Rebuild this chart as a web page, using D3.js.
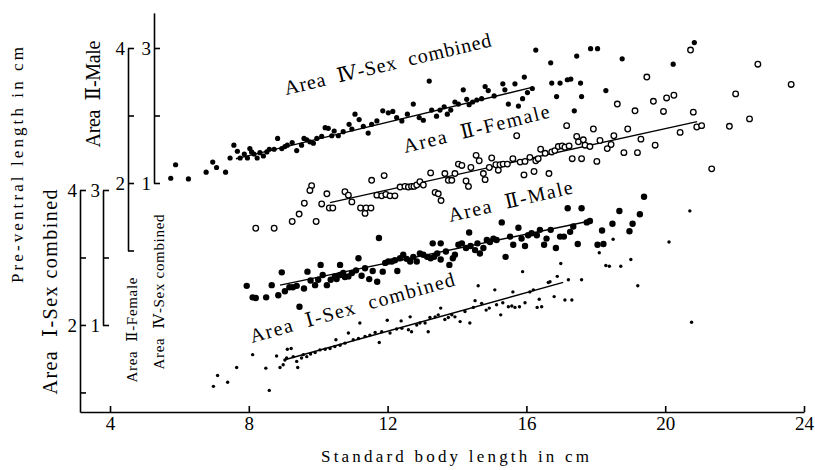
<!DOCTYPE html>
<html>
<head>
<meta charset="utf-8">
<script src="https://cdn.jsdelivr.net/npm/d3@7"></script>
<style>
  body { margin: 0; background: #fff; }
  text { font-family: 'Liberation Serif', 'DejaVu Serif', serif; fill: #000; }
</style>
</head>
<body>
<div id="chart"></div>
<script>
// standard body length (cm) ticks on the shared x axis
const xTicks = [4, 8, 12, 16, 20, 24]

// each y axis: tick values and which of them carry a number
const ticksI = [1, 2, 3, 4]
const labelsI = [2, 4]
const ticksM = [1, 2, 3]
const labelsM = [1, 3]
const ticksF = [1, 2, 3, 4]
const labelsF = [2, 4]
const ticksIV = [1, 2, 3]
const labelsIV = [1, 3]

// [standard length, pre-ventral length] in cm
const areaIV = [
  [5.75,1.07],[5.89,1.27],[6.26,1.06],[6.77,1.16],[6.96,1.31],[7.07,1.23],[7.33,1.16],[7.46,1.37],[7.57,1.56],[7.67,1.47],
  [7.75,1.37],[7.87,1.43],[7.96,1.37],[8.03,1.51],[8.08,1.46],[8.15,1.43],[8.24,1.37],[8.32,1.45],[8.42,1.40],[8.52,1.46],
  [8.59,1.50],[8.73,1.50],[8.83,1.66],[8.95,1.51],[9.04,1.54],[9.11,1.56],[9.25,1.60],[9.38,1.48],[9.52,1.56],[9.59,1.66],
  [9.67,1.64],[9.76,1.61],[9.86,1.59],[9.96,1.66],[10.10,1.69],[10.20,1.82],[10.29,1.81],[10.39,1.70],[10.46,1.77],[10.58,1.70],
  [10.72,1.76],[10.89,1.87],[10.97,1.80],[11.06,2.02],[11.18,1.94],[11.30,1.84],[11.44,1.74],[11.54,1.87],[11.69,1.92],[11.86,2.07],
  [12.02,2.04],[12.15,2.06],[12.26,1.97],[12.41,1.92],[12.57,2.02],[12.74,2.17],[12.91,1.97],[13.03,1.93],[13.20,2.51],[13.27,2.08],
  [13.41,1.99],[13.51,2.08],[13.63,2.13],[13.72,2.02],[13.82,2.08],[13.94,2.20],[14.04,2.17],[14.18,2.38],[14.28,2.24],[14.35,2.16],
  [14.45,2.20],[14.57,2.23],[14.71,2.25],[14.81,2.43],[14.90,2.37],[15.07,2.29],[15.32,2.47],[15.38,2.38],[15.48,2.17],[15.67,2.47],
  [15.77,2.14],[15.89,2.25],[15.94,2.57],[16.03,2.34],[16.17,2.40],[16.27,2.97],[16.70,2.78],[16.73,2.48],[16.97,2.48],[17.18,2.53],
  [17.28,2.54],[16.87,2.28],[17.56,2.48],[17.45,2.88],[17.85,2.99],[18.05,2.99],[17.59,2.28],[17.38,2.07],[18.29,2.37],[18.76,2.84],
  [20.23,2.76],[20.84,3.08]
]

const areaIIFemale = [
  [8.20,1.33],[8.73,1.33],[9.25,1.43],[9.45,1.54],[9.60,1.70],[9.81,1.96],[9.76,1.89],[9.94,1.43],[10.10,1.69],[10.25,1.84],
  [10.32,1.63],[10.42,1.63],[10.77,1.87],[10.87,1.82],[10.97,1.72],[11.22,1.63],[11.38,1.63],[11.52,1.63],[11.35,1.55],[11.54,2.04],
  [11.90,2.11],[11.69,1.82],[11.83,1.81],[11.95,1.83],[12.07,1.81],[12.21,1.81],[12.36,1.94],[12.50,1.95],[12.60,1.94],[12.69,1.95],
  [12.76,1.95],[12.84,1.97],[12.93,2.02],[13.03,1.97],[13.24,2.15],[13.37,1.86],[13.46,1.84],[13.54,1.74],[13.65,2.14],[13.75,2.04],
  [13.85,2.04],[13.94,2.14],[14.04,2.28],[14.14,2.26],[14.26,2.03],[14.33,1.95],[14.40,2.23],[14.55,2.41],[14.64,2.33],[14.76,2.14],
  [14.81,2.05],[14.93,2.23],[15.00,2.37],[15.12,2.27],[15.19,2.19],[15.24,2.27],[15.33,2.28],[15.45,2.28],[15.61,2.36],[15.72,2.70],
  [15.82,2.31],[15.93,2.12],[15.96,2.32],[16.10,2.38],[16.22,2.17],[16.27,2.33],[16.34,2.36],[16.41,2.50],[16.54,2.44],[16.65,2.14],
  [16.73,2.46],[16.82,2.48],[16.92,2.54],[17.03,2.55],[17.11,2.53],[17.16,2.85],[17.23,2.55],[17.32,2.36],[17.45,2.69],[17.50,2.61],
  [17.59,2.36],[17.64,2.64],[17.69,2.56],[17.83,2.54],[17.93,2.80],[18.12,2.63],[18.03,2.32],[18.33,2.51],[18.44,2.57],[18.52,2.70],
  [18.62,3.17],[18.81,2.45],[18.92,2.80],[19.13,3.07],[19.20,2.45],[19.30,2.65],[19.47,3.57],[19.66,3.21],[19.71,2.56],[19.95,3.06],
  [20.04,3.26],[20.25,3.30],[20.43,2.75],[20.73,3.97],[20.81,3.05],[20.91,2.83],[21.05,2.85],[21.34,2.21],[21.85,2.84],[22.03,3.32],
  [22.43,2.95],[22.67,3.76],[23.63,3.46]
]

const areaIIMale = [
  [7.94,1.58],[8.11,1.41],[8.20,1.40],[8.50,1.41],[8.66,1.59],[8.85,1.44],[8.95,1.78],[9.04,1.50],[9.17,1.56],[9.27,1.56],
  [9.38,1.58],[9.46,1.27],[9.59,1.54],[9.69,1.79],[9.78,1.66],[9.91,1.59],[10.00,1.67],[10.07,1.89],[10.13,1.74],[10.25,1.59],
  [10.36,1.67],[10.48,1.72],[10.53,1.68],[10.63,1.74],[10.72,1.77],[10.87,1.72],[10.63,1.89],[10.77,1.71],[10.97,1.77],[11.09,1.81],
  [11.16,1.99],[11.25,1.73],[11.35,1.84],[11.47,1.68],[11.57,1.80],[11.70,1.64],[11.75,2.29],[11.86,1.79],[11.93,1.92],[12.02,1.94],
  [12.12,1.94],[12.21,1.96],[12.28,1.80],[12.36,1.99],[12.45,2.04],[12.55,1.98],[12.65,1.94],[12.74,2.01],[12.84,1.94],[12.93,2.06],
  [13.03,2.04],[13.14,2.01],[13.24,1.99],[13.34,2.01],[13.43,2.06],[13.53,1.97],[13.30,2.21],[13.53,2.21],[13.68,2.09],[13.78,1.89],
  [13.88,1.99],[13.94,2.04],[14.04,2.19],[14.14,2.21],[14.26,2.14],[14.35,2.37],[14.39,2.17],[14.52,2.11],[14.59,2.21],[14.66,2.06],
  [14.76,2.14],[14.86,2.26],[14.95,2.23],[15.05,2.28],[15.14,2.26],[15.29,2.52],[15.40,2.01],[15.53,2.31],[15.62,2.19],[15.77,2.44],
  [15.86,2.28],[15.96,2.17],[16.05,2.33],[16.15,2.36],[16.30,2.33],[16.39,2.41],[16.51,2.19],[16.58,2.28],[16.70,2.41],[16.85,2.14],
  [16.97,2.31],[17.08,2.31],[17.26,2.38],[17.35,2.46],[17.48,2.20],[17.59,2.73],[17.74,2.52],[17.19,2.73],[17.83,2.54],[18.18,2.40],
  [18.48,2.50],[18.97,2.39],[19.06,2.50],[18.05,2.19],[18.22,2.20],[18.68,2.69],[19.27,2.64],[19.39,2.90]
]

const areaI = [
  [6.98,1.09],[7.10,1.25],[7.39,1.15],[7.65,1.37],[8.11,1.56],[8.49,1.36],[8.59,1.03],[8.80,1.54],[8.90,1.37],[8.99,1.41],
  [9.09,1.51],[9.22,1.65],[9.11,1.64],[9.04,1.48],[9.28,1.53],[9.38,1.46],[9.41,1.37],[9.52,1.51],[9.57,1.56],[9.67,1.53],
  [9.78,1.57],[9.91,1.59],[10.05,1.63],[10.20,1.64],[10.34,1.65],[10.48,1.68],[10.51,1.78],[10.63,1.70],[10.77,1.73],[10.87,1.88],
  [11.01,1.78],[11.16,1.80],[11.20,2.03],[11.35,1.83],[11.49,1.85],[11.64,1.89],[11.76,1.74],[11.83,1.90],[11.99,2.07],[12.07,1.88],
  [12.26,1.94],[12.41,1.95],[12.65,2.12],[12.60,1.93],[12.69,1.90],[12.84,2.00],[12.93,2.03],[13.08,2.03],[13.17,1.90],[13.22,2.11],
  [13.37,2.12],[13.46,2.15],[13.53,2.25],[13.65,2.08],[13.75,2.11],[13.85,2.15],[13.94,2.12],[14.09,2.05],[14.23,2.20],[14.37,2.03],
  [14.47,2.26],[14.61,2.58],[14.52,2.36],[14.71,2.32],[14.84,2.22],[14.93,2.25],[15.09,2.52],[15.14,2.30],[15.26,2.15],[15.32,2.33],
  [15.48,2.27],[15.61,2.49],[15.58,2.28],[15.67,2.26],[15.80,2.27],[15.89,2.79],[15.96,2.33],[16.10,2.49],[16.20,2.52],[16.31,2.26],
  [16.44,2.27],[16.37,2.38],[16.63,2.63],[16.80,2.42],[16.89,2.72],[16.99,2.91],[17.11,2.37],[17.21,2.67],[17.31,2.37],[17.59,2.67],
  [16.68,2.64],[18.10,3.07],[18.29,2.88],[18.39,2.87],[18.72,2.87],[19.01,2.97],[18.50,3.27],[20.71,3.69],[20.11,3.23],[19.21,2.58],
  [20.76,2.04],[12.39,2.06]
]

// fitted regression lines, end points
const fitI = [[9.01, 1.48], [17.06, 2.63]]
const fitM = [[8.90, 1.59], [17.83, 2.54]]
const fitF = [[10.34, 1.71], [20.92, 2.91]]
const fitIV = [[7.63, 1.36], [16.19, 2.42]]

const width = 815
const height = 470
const font = "'Liberation Serif', 'DejaVu Serif', serif"

const x = d3.scaleLinear().domain([3.135, 24]).range([80, 804])

// four offset y scales, same cm-per-pixel, stacked like the original plate
const yI = d3.scaleLinear().domain([0.71, 4]).range([412, 190])
const yM = d3.scaleLinear().domain([1, 3]).range([325, 190])
const yF = d3.scaleLinear().domain([1, 4]).range([250.5, 48])
const yIV = d3.scaleLinear().domain([1, 3.52]).range([183, 12.9])

const svg = d3
  .select('#chart')
  .append('svg')
  .attr('width', width)
  .attr('height', height)
  .style('background', '#fff')

// x axis, ticks pointing up into the plot
svg
  .append('g')
  .attr('transform', 'translate(0,412)')
  .call(
    d3.axisBottom(x).tickValues(xTicks).tickSizeInner(-6).tickSizeOuter(0).tickPadding(5)
  )
  .call(g => g.attr('font-family', font).attr('font-size', 19))
  .call(g => g.selectAll('path, line').attr('stroke-width', 1.6))

const yAxis = (left, scale, ticks, labels) =>
  svg
    .append('g')
    .attr('transform', `translate(${left},0)`)
    .call(
      d3
        .axisLeft(scale)
        .tickValues(ticks)
        .tickSizeInner(-6)
        .tickSizeOuter(0)
        .tickPadding(3)
        .tickFormat(d => (labels.includes(d) ? d : ''))
    )
    .call(g => g.attr('font-family', font).attr('font-size', 19))
    .call(g => g.selectAll('path, line').attr('stroke-width', 1.6))

yAxis(80, yI, ticksI, labelsI)
yAxis(103, yM, ticksM, labelsM)
yAxis(128, yF, ticksF, labelsF)
yAxis(154, yIV, ticksIV, labelsIV)

// regression lines
const fitLine = (data, y) =>
  svg
    .append('path')
    .datum(data)
    .attr('fill', 'none')
    .attr('stroke', '#000')
    .attr('stroke-width', 1.4)
    .attr('d', d3.line().x(d => x(d[0])).y(d => y(d[1])))

fitLine(fitIV, yIV)
fitLine(fitF, yF)
fitLine(fitM, yM)
fitLine(fitI, yI)

// scatter
const dots = (data, y, r, open) =>
  svg
    .append('g')
    .selectAll('circle')
    .data(data)
    .join('circle')
    .attr('cx', d => x(d[0]))
    .attr('cy', d => y(d[1]))
    .attr('r', r)
    .attr('fill', open ? '#fff' : '#000')
    .attr('stroke', open ? '#000' : 'none')
    .attr('stroke-width', 1.3)

dots(areaIV, yIV, 2.6, false)
dots(areaIIMale, yM, 3.2, false)
dots(areaI, yI, 1.7, false)
dots(areaIIFemale, yF, 2.8, true)

// titles
svg
  .append('text')
  .attr('x', 455)
  .attr('y', 462)
  .attr('text-anchor', 'middle')
  .attr('font-size', 17)
  .attr('textLength', 268)
  .attr('lengthAdjust', 'spacing')
  .text('Standard body length in cm')

const sideLabel = (tx, ty, size, len, str) =>
  svg
    .append('text')
    .attr('transform', `translate(${tx},${ty}) rotate(-90)`)
    .attr('text-anchor', 'middle')
    .attr('font-size', size)
    .attr('textLength', len)
    .attr('lengthAdjust', 'spacing')
    .style('white-space', 'pre')
    .text(str)

sideLabel(23, 165, 17, 236, 'Pre-ventral length in cm')
sideLabel(57, 292, 20, 205, 'Area  Ⅰ-Sex combined')
sideLabel(100, 94, 20, 107, 'Area  Ⅱ-Male')
sideLabel(137, 330, 15, 105, 'Area  Ⅱ-Female')
sideLabel(164, 292, 15, 155, 'Area  Ⅳ-Sex combined')

// series names written along the clouds
const slantLabel = (tx, ty, angle, len, str) =>
  svg
    .append('text')
    .attr('transform', `translate(${tx},${ty}) rotate(${angle})`)
    .attr('font-size', 20)
    .attr('textLength', len)
    .attr('lengthAdjust', 'spacing')
    .style('white-space', 'pre')
    .text(str)

slantLabel(286, 95, -13.3, 212, 'Area  Ⅳ-Sex  combined')
slantLabel(405, 153, -13.7, 150, 'Area  Ⅱ-Female')
slantLabel(450, 222, -13.1, 127, 'Area  Ⅱ-Male')
slantLabel(252, 343, -15.8, 212, 'Area  Ⅰ-Sex  combined')
</script>
</body>
</html>
